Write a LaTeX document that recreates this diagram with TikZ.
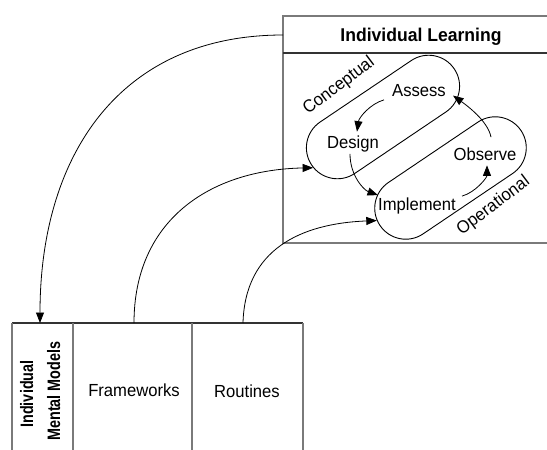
\documentclass[tikz,border=0pt]{standalone}
\usepackage{fontspec}
\setmainfont{Liberation Sans}[FakeStretch=0.95]
\newfontfamily\condfont{Liberation Sans}[FakeStretch=0.8]
\usetikzlibrary{arrows.meta,shapes.misc,calc}
\definecolor{boxgray}{HTML}{7A7A7A}
\definecolor{darkline}{HTML}{333333}
\begin{document}
\begin{tikzpicture}[x=1pt,y=-1pt,
  boxline/.style={draw=boxgray,line width=1.2pt},
  divline/.style={draw=darkline,line width=1.1pt},
  pill/.style={draw=black,line width=0.9pt,rounded rectangle,inner sep=0pt,minimum height=62pt},
  conn/.style={draw=black,line width=0.8pt,-{Triangle[length=10.5pt,width=8pt]}},
  lbl/.style={font=\fontsize{17.5}{20}\selectfont,inner sep=1pt},
  headtxt/.style={font=\bfseries\fontsize{18.5}{22}\selectfont,inner sep=1pt},
  mmtxt/.style={font=\condfont\bfseries\fontsize{18}{22}\selectfont,inner sep=1pt}]
\useasboundingbox (0,0) rectangle (547,450);

% Individual Learning box
\draw[boxline] (547,16) -- (283,16) -- (283,243) -- (547,243);
\draw[divline] (283,53) -- (547,53);
\node[headtxt,anchor=base] (ilhead) at (421,41.5) {Individual Learning};
\coordinate (ilwest) at (283,35);

% bottom box
\draw[divline] (12,323) -- (303,323);
\draw[boxline] (12,323) -- (12,450) (73,323) -- (73,450)
  (192,323) -- (192,450) (303,323) -- (303,450);
\coordinate (mmtop) at (40,323);
\coordinate (fwtop) at (134,323);
\coordinate (rttop) at (243,323);
\node[mmtxt,anchor=base,rotate=90] (mmA) at (33,394) {Individual};
\node[mmtxt,anchor=base,rotate=90] (mmB) at (60,391) {Mental Models};
\node[lbl,anchor=base] (fw) at (134,396.5) {Frameworks};
\node[lbl,anchor=base] (rt) at (247,397) {Routines};

% pills
\node[pill,minimum width=172pt,rotate=34] (con) at (383,117) {};
\node[pill,minimum width=170pt,rotate=34] (ope) at (450.5,178) {};
\node[lbl,rotate=37] (conl) at (339,86) {Conceptual};
\node[lbl,rotate=37] (opel) at (493.5,206) {Operational};

% cycle labels
\node[lbl,anchor=base] (assess) at (419,96.5) {Assess};
\node[lbl,anchor=base] (design) at (353,148) {Design};
\node[lbl,anchor=base] (observe) at (485,160) {Observe};
\node[lbl,anchor=base] (implement) at (417,210) {Implement};

% cycle arrows
\draw[conn] ($(assess.south west)+(-7,2)$) .. controls +(-14,4) and +(2,-14) .. ($(design.north)+(4,-2.5)$);
\draw[conn] ($(design.south)+(-3,1)$) .. controls +(0,22) and +(-14,-5) .. ($(implement.north west)+(1,-1)$);
\draw[conn] ($(implement.north east)+(5,0)$) .. controls +(14,-4) and +(0,12) .. ($(observe.south)+(2,4)$);
\draw[conn] ($(observe.north)+(6,-9)$) .. controls +(-3,-16) and +(14,10) .. ($(assess.east)+(6,5)$);

% long connectors
\draw[conn] (ilwest) .. controls +(-163,0) and +(0,-168) .. (mmtop);
\draw[conn] (fwtop) .. controls +(0,-103) and +(-103,2) .. (con.182);
\draw[conn] (rttop) .. controls +(2,-73) and +(-77,3) .. (ope.176);
\end{tikzpicture}
\end{document}
